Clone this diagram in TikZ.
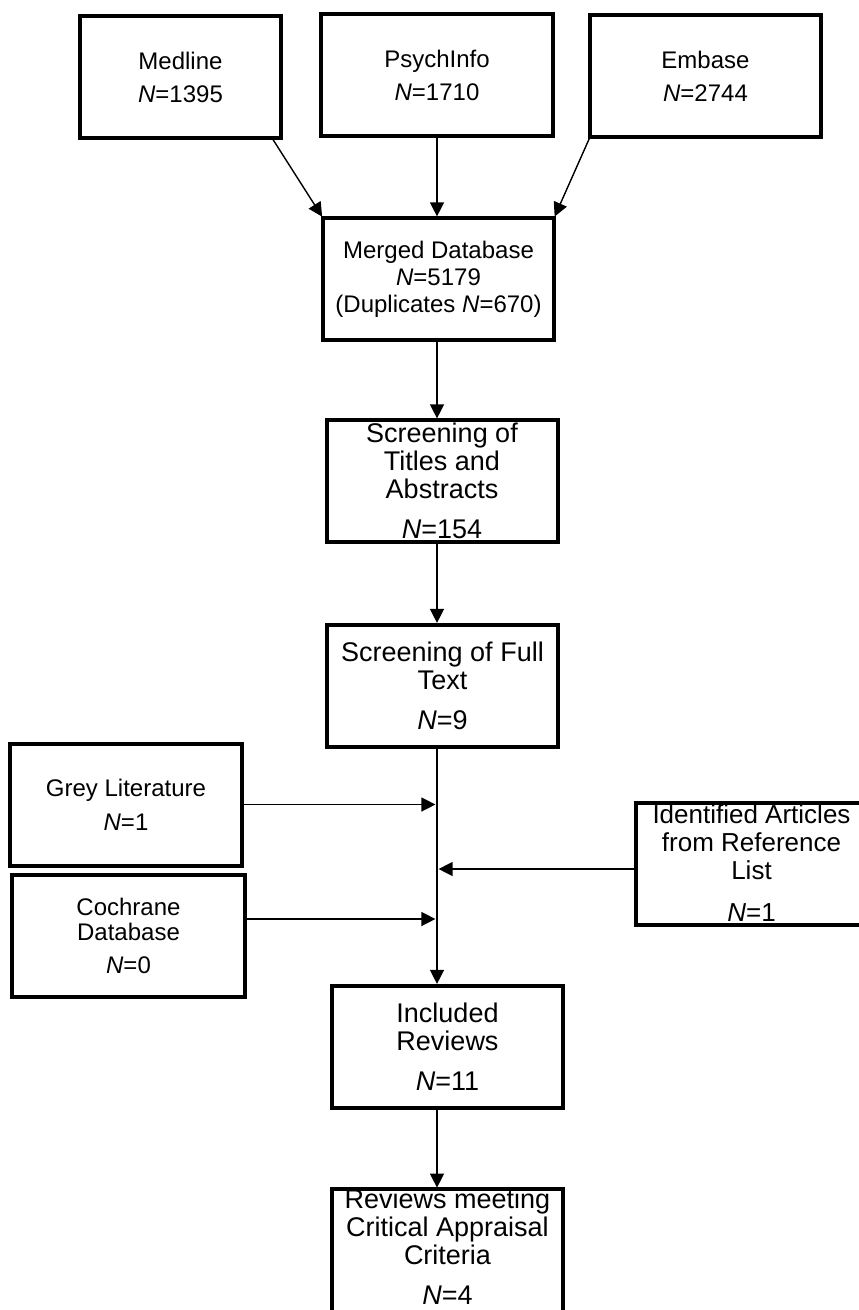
\documentclass[tikz,border=0pt]{standalone}
\usepackage{fontspec}
\setmainfont{Liberation Sans}
\usetikzlibrary{arrows.meta}

\begin{document}
\begin{tikzpicture}[x=0.5pt,y=-0.5pt,
  every node/.style={rectangle,draw,line width=2pt,align=center,inner sep=0pt,outer sep=0pt,
    minimum width=115.5pt,minimum height=61pt,font=\fontsize{12}{13.5}\selectfont},
  big/.style={font=\fontsize{13.5}{14}\selectfont},
  flow/.style={line width=0.7pt,shorten >=0.8pt,-{Triangle[length=7pt,width=7pt]}}]
  \useasboundingbox (0,0) rectangle (858,1310);
  \coordinate (spine) at (437,0);

  % databases
  \node[minimum width=100.5pt,font=\fontsize{12}{16.5}\selectfont] (medline) at (180.5,77) {Medline\\\textit{N}=1395};
  \node[minimum width=116pt,font=\fontsize{12}{16.5}\selectfont] (psych) at (437,75.5) {PsychInfo\\\textit{N}=1710};
  \node[font=\fontsize{12}{16.5}\selectfont] (embase) at (705.5,76) {Embase\\\textit{N}=2744};
  \node (merged) at (438.5,279) {Merged Database\\\textit{N}=5179\\(Duplicates \textit{N}=670)};

  % screening
  \node[big] (titles) at (442,481) {Screening of\\Titles and\\Abstracts\\[6pt]\textit{N}=154};
  \node[big] (fulltext) at (442.5,685.5) {Screening of Full\\Text\\[6pt]\textit{N}=9};

  % other sources
  \node[minimum width=116pt,font=\fontsize{12}{17}\selectfont] (grey) at (126,804.5) {Grey Literature\\\textit{N}=1};
  \node[minimum width=116.5pt,font=\fontsize{12}{12.5}\selectfont] (cochrane) at (128.5,935.5) {Cochrane\\Database\\[4pt]\textit{N}=0};
  \node[font=\fontsize{13}{14}\selectfont] (refs) at (751.5,863.5) {Identified Articles\\from Reference\\List\\[7pt]\textit{N}=1};

  % result
  \node[big] (included) at (447.5,1046.5) {Included\\Reviews\\[6pt]\textit{N}=11};
  \node[big,text depth=7pt] (critical) at (447.5,1254) {Reviews meeting\\Critical Appraisal\\Criteria\\[6pt]\textit{N}=4};

  % frames over overflowing text
  \foreach \b in {titles,refs,critical}
    \draw[line width=2pt] (\b.south west) rectangle (\b.north east);

  \draw[flow] ([xshift=-4.5pt]medline.south east) -- (merged.north west);
  \draw[flow] (psych.south) -- (psych.south |- merged.north);
  \draw[flow] (embase.south west) -- (merged.north east);
  \draw[flow] (merged.south -| spine) -- (titles.north -| spine);
  \draw[flow] (titles.south -| spine) -- (fulltext.north -| spine);
  \draw[flow] (fulltext.south -| spine) -- (included.north -| spine);
  \draw[flow] (grey.east) -- (grey.east -| spine);
  \draw[flow] ([yshift=8.25pt]cochrane.east) -- ([yshift=8.25pt]cochrane.east -| spine);
  \draw[flow] ([yshift=-2.75pt]refs.west) -- ([yshift=-2.75pt]refs.west -| spine);
  \draw[flow] (included.south -| spine) -- (critical.north -| spine);
\end{tikzpicture}
\end{document}
